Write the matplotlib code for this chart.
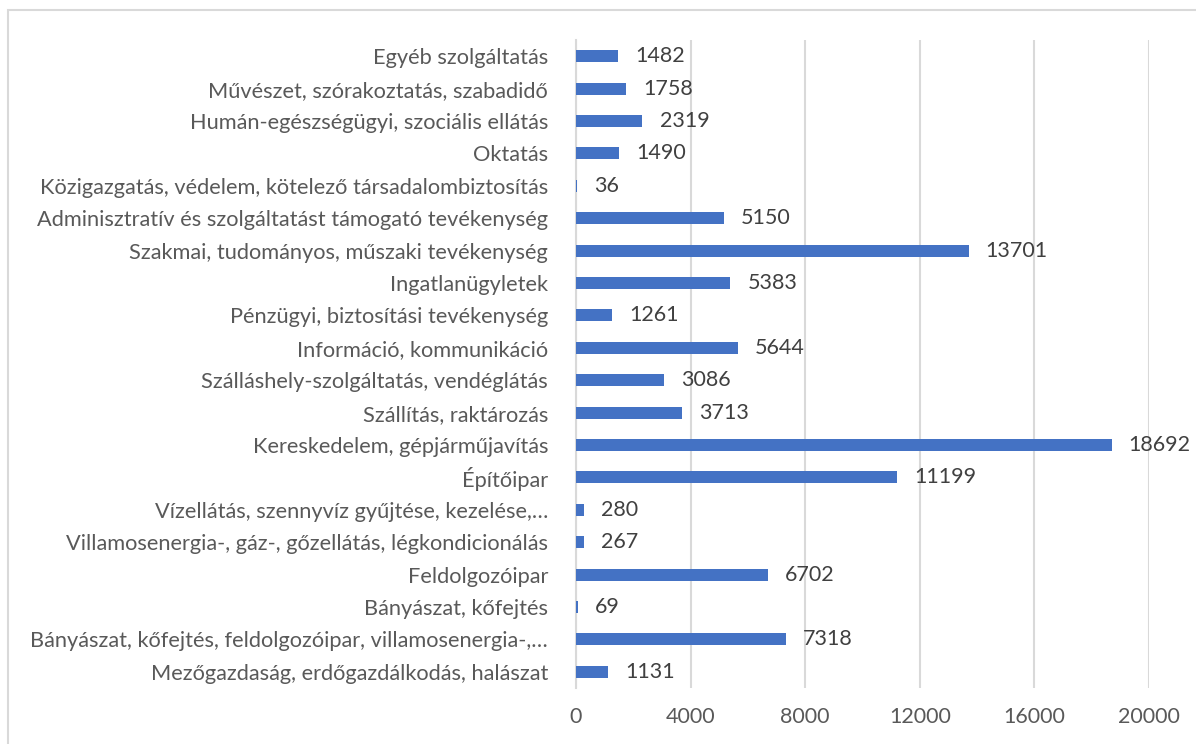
import matplotlib
matplotlib.use('agg')
import matplotlib.pyplot as plt
from matplotlib.patches import Rectangle

# kategóriák alulról felfelé
categories = [
    "Mezőgazdaság, erdőgazdálkodás, halászat",
    "Bányászat, kőfejtés, feldolgozóipar, villamosenergia-,…",
    "Bányászat, kőfejtés",
    "Feldolgozóipar",
    "Villamosenergia-, gáz-, gőzellátás, légkondicionálás",
    "Vízellátás, szennyvíz gyűjtése, kezelése,…",
    "Építőipar",
    "Kereskedelem, gépjárműjavítás",
    "Szállítás, raktározás",
    "Szálláshely-szolgáltatás, vendéglátás",
    "Információ, kommunikáció",
    "Pénzügyi, biztosítási tevékenység",
    "Ingatlanügyletek",
    "Szakmai, tudományos, műszaki tevékenység",
    "Adminisztratív és szolgáltatást támogató tevékenység",
    "Közigazgatás, védelem, kötelező társadalombiztosítás",
    "Oktatás",
    "Humán-egészségügyi, szociális ellátás",
    "Művészet, szórakoztatás, szabadidő",
    "Egyéb szolgáltatás",
]
values = [1131, 7318, 69, 6702, 267, 280, 11199, 18692, 3713, 3086,
          5644, 1261, 5383, 13701, 5150, 36, 1490, 2319, 1758, 1482]
xticks = [0, 4000, 8000, 12000, 16000, 20000]

plt.rcParams['font.family'] = ['Lato', 'DejaVu Sans']

fig = plt.figure(figsize=(11.96, 7.44), dpi=100)
ax = fig.add_axes([0.4816, 0.0753, 0.4791, 0.8709])

y = range(len(categories))
ax.barh(y, values, height=0.37, color='#4472C4', zorder=3)
for yi, v in zip(y, values):
    ax.text(v + 600, yi, str(v), va='center', ha='left', fontsize=15.5, color='#404040')

ax.set_xlim(0, 20000)
ax.set_ylim(-0.5, len(categories) - 0.5)
ax.set_xticks(xticks)
ax.set_xticklabels([str(t) for t in xticks])
ax.set_yticks(list(y))
ax.set_yticklabels(categories)
ax.tick_params(axis='x', length=0, labelsize=15.5, labelcolor='#595959', pad=14)
ax.tick_params(axis='y', length=0, labelsize=15.7, labelcolor='#595959', pad=20)
ax.grid(axis='x', color='#D9D9D9', linewidth=1.5, zorder=0)
for s in ['top', 'right', 'bottom']:
    ax.spines[s].set_visible(False)
ax.spines['left'].set_color('#D9D9D9')
ax.spines['left'].set_linewidth(1.5)

# keret
fig.patches.append(Rectangle((8 / 1196, -0.05), 1.2, 1 - 10 / 744 + 0.05,
                             transform=fig.transFigure, fill=False,
                             edgecolor='#D9D9D9', linewidth=1.5))

plt.savefig('out.png', dpi=100)
